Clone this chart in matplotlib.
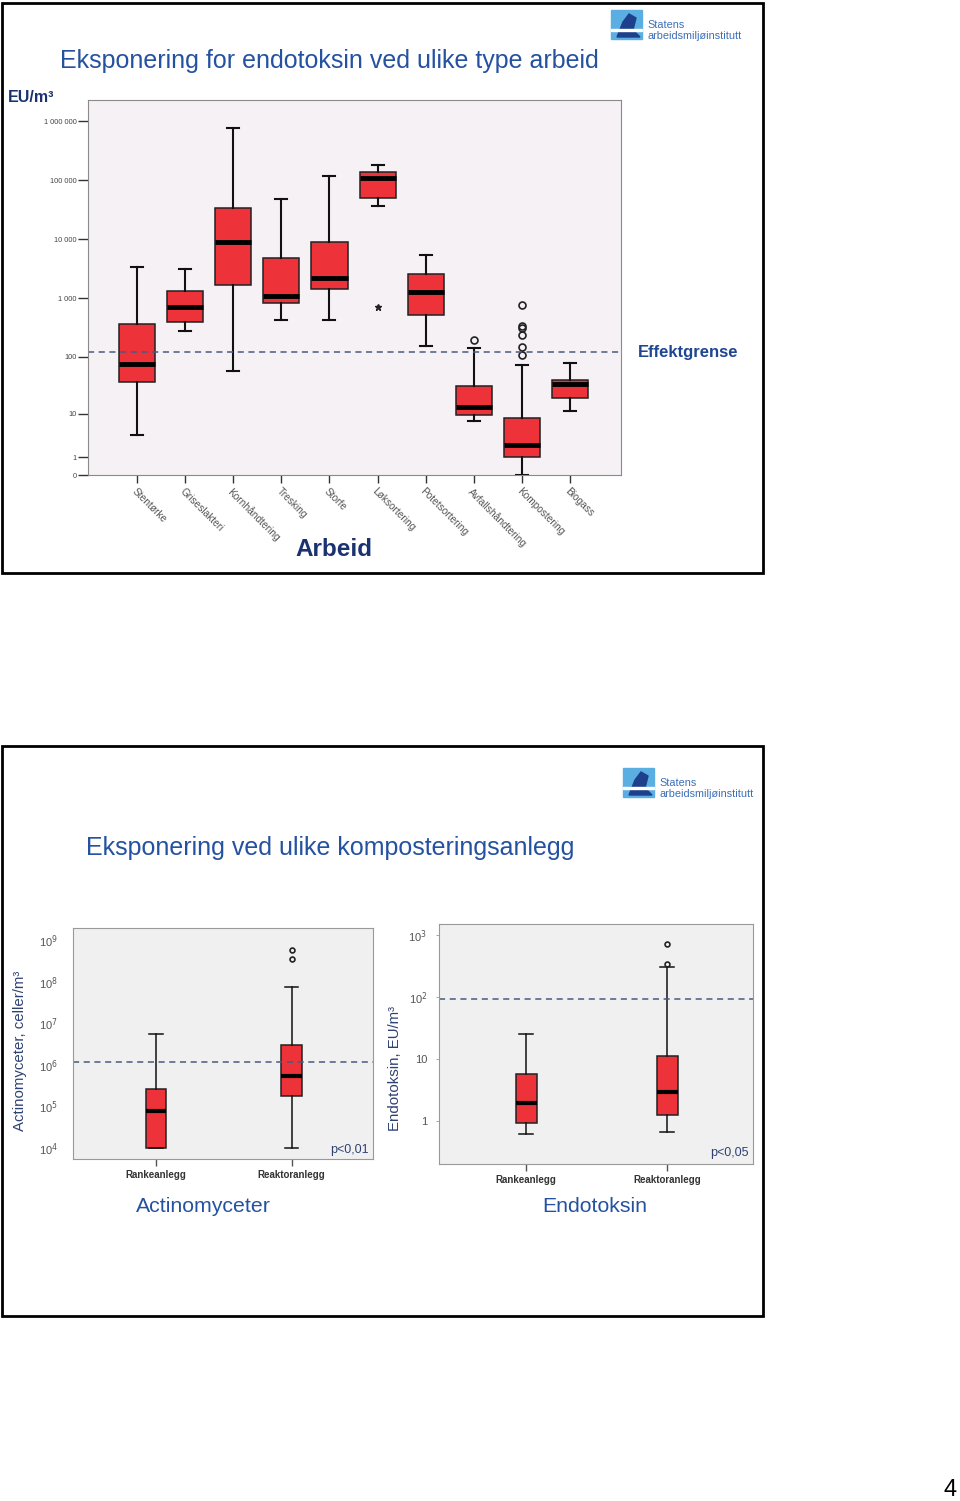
import numpy as np
import matplotlib.pyplot as plt
from matplotlib.patches import Rectangle, Polygon

W, H = 960, 1501
plt.rcParams['font.family'] = ['Liberation Sans', 'DejaVu Sans']

RED = '#EE3239'
TITLE_BLUE = '#2452A0'
NAVY = '#1A3370'
SLATE = '#2E4272'

# --- endotoxin per type of work (EU/m3) ---
arbeid = ['Stentørke', 'Griseslakteri', 'Kornhåndtering', 'Tresking', 'Storfe',
          'Løksortering', 'Potetsortering', 'Avfallshåndtering', 'Kompostering', 'Biogass']
arb_whislo = [3.8, 280, 57, 420, 420, 36600, 151, 7.1, 0, 11.2]
arb_q1 = [37, 400, 1660, 820, 1420, 50000, 515, 9.3, 1.0, 19]
arb_med = [75, 700, 8900, 1080, 2180, 107000, 1260, 13.2, 2.2, 34]
arb_q3 = [362, 1310, 33500, 4750, 8900, 138000, 2570, 31.6, 8.1, 40]
arb_whishi = [3350, 3090, 760000, 47500, 117000, 180000, 5420, 139, 73, 78]
arb_fliers = [[], [], [], [], [], [], [], [193], [106, 147, 232, 310, 334, 768], []]
arb_extreme = [[], [], [], [], [], [695], [], [], [], []]
arb_limit = 120
arb_ticks = [0, 1, 10, 100, 1000, 10000, 100000, 1000000]
arb_ticklabels = ['0', '1', '10', '100', '1 000', '10 000', '100 000', '1 000 000']

# --- composting plants ---
anlegg = ['Rankeanlegg', 'Reaktoranlegg']
act_whislo = [1e4, 1e4]
act_q1 = [1e4, 1.81e5]
act_med = [7.9e4, 5.5e5]
act_q3 = [2.67e5, 2.95e6]
act_whishi = [5.65e6, 7.76e7]
act_fliers = [[], [3.56e8, 5.97e8]]
act_limit = 1.15e6

endo_whislo = [0.61, 0.665]
endo_q1 = [0.93, 1.22]
endo_med = [1.9, 2.94]
endo_q3 = [5.59, 11.2]
endo_whishi = [25.3, 305]
endo_fliers = [[], [336, 724]]
endo_limit = 92


def make_stats(lo, q1, med, q3, hi, fl):
    return [dict(whislo=a, q1=b, med=c, q3=d, whishi=e, fliers=f)
            for a, b, c, d, e, f in zip(lo, q1, med, q3, hi, fl)]


def px_axes(x0, y0, x1, y1):
    return fig.add_axes([x0 / W, 1 - y1 / H, (x1 - x0) / W, (y1 - y0) / H])


def ftext(x, y, s, **kw):
    fig.text(x / W, 1 - y / H, s, **kw)


def draw_boxes(ax, stats, pos, width, capw, med_lw, wlw, ms):
    ax.bxp(stats, positions=pos, widths=width, capwidths=capw, patch_artist=True,
           boxprops=dict(facecolor=RED, edgecolor='#222', linewidth=1.1),
           medianprops=dict(color='black', linewidth=med_lw, solid_capstyle='butt'),
           whiskerprops=dict(color='#111', linewidth=wlw),
           capprops=dict(color='#111', linewidth=wlw),
           flierprops=dict(marker='o', markerfacecolor='none', markeredgecolor='#222',
                           markersize=ms, markeredgewidth=1.2))


def logo(x, y):
    # small institute logo: blue square + name
    fig.patches.append(Rectangle((x / W, 1 - (y + 29) / H), 31 / W, 29 / H,
                                 transform=fig.transFigure, color='#5BAEE2', zorder=1))
    fig.patches.append(Polygon([((x + 6) / W, 1 - (y + 27) / H), ((x + 12) / W, 1 - (y + 12) / H),
                                ((x + 18) / W, 1 - (y + 4) / H), ((x + 25) / W, 1 - (y + 8) / H),
                                ((x + 22) / W, 1 - (y + 20) / H), ((x + 29) / W, 1 - (y + 27) / H)],
                               closed=True, transform=fig.transFigure, color='#1D3F8C', zorder=2))
    fig.patches.append(Rectangle((x / W, 1 - (y + 21) / H), 31 / W, 2 / H,
                                 transform=fig.transFigure, color='white', zorder=3))
    ftext(x + 36, y + 15, 'Statens', fontsize=7.8, color='#3B6FB6', va='center')
    ftext(x + 36, y + 26, 'arbeidsmiljøinstitutt', fontsize=7.8, color='#3B6FB6', va='center')


fig = plt.figure(figsize=(W / 100, H / 100), dpi=100)

# slide frames
for y0, y1 in [(3, 573), (746, 1316)]:
    fig.patches.append(Rectangle((2 / W, 1 - y1 / H), 761 / W, (y1 - y0) / H,
                                 transform=fig.transFigure, fill=False,
                                 edgecolor='black', linewidth=2))

# ---------------- top slide ----------------
ftext(60, 61, 'Eksponering for endotoksin ved ulike type arbeid', fontsize=18,
      color=TITLE_BLUE, va='center')
ftext(8, 97, 'EU/m³', fontsize=11.5, fontweight='bold', color=NAVY, va='center')
logo(611, 10)

ax = px_axes(88, 100, 621, 475)
ax.set_facecolor('#F5F1F4')
ax.set_yscale('function', functions=(lambda v: np.log10(np.clip(v, -0.999, None) + 1),
                                     lambda u: 10 ** u - 1))
pos = np.arange(len(arbeid))
draw_boxes(ax, make_stats(arb_whislo, arb_q1, arb_med, arb_q3, arb_whishi, arb_fliers),
           pos, 0.75, 0.25, 3.5, 1.5, 5)
for p, ex in zip(pos, arb_extreme):
    if ex:
        ax.plot([p] * len(ex), ex, linestyle='none', marker='*', color='#222', markersize=5)
ax.axhline(arb_limit, color='#4A5A80', linestyle=(0, (4, 3)), linewidth=1.1)
ax.set_xlim(-1.02, 10.06)
ax.set_ylim(0, 10 ** 6.36 - 1)
ax.set_yticks(arb_ticks)
ax.set_yticklabels(arb_ticklabels)
ax.set_xticks(pos)
ax.set_xticklabels(arbeid, rotation=-45, ha='left', va='top', rotation_mode='anchor',
                   fontsize=7.3, color='#555')
ax.tick_params(axis='y', length=7, width=1, color='#333', labelsize=5.3,
               labelcolor='#444', pad=1)
ax.tick_params(axis='x', length=6, width=1, color='#333', pad=2)
for s in ax.spines.values():
    s.set_color('#8A8A8A')
ax.minorticks_off()

ftext(638, 353, 'Effektgrense', fontsize=12, fontweight='bold', color='#1F4690', va='center')
ftext(334, 549, 'Arbeid', fontsize=17.5, fontweight='bold', color=NAVY, va='center', ha='center')

# ---------------- bottom slide ----------------
logo(623, 768)
ftext(86, 848, 'Eksponering ved ulike komposteringsanlegg', fontsize=18,
      color=TITLE_BLUE, va='center')

# actinomycetes
ax1 = px_axes(73, 928, 373, 1159)
ax1.set_facecolor('#F0F0F0')
ax1.set_yscale('log')
draw_boxes(ax1, make_stats(act_whislo, act_q1, act_med, act_q3, act_whishi, act_fliers),
           [1, 2], 0.15, 0.1, 3, 1.1, 3.5)
ax1.axhline(act_limit, color='#4A5A80', linestyle=(0, (4, 3)), linewidth=1.1)
ax1.set_xlim(0.39, 2.6)
ax1.set_ylim(10 ** 3.735, 10 ** 9.3)
ax1.set_yticks([10 ** k for k in range(4, 10)])
ax1.set_yticklabels([f'10$^{{{k}}}$' for k in range(4, 10)])
ax1.minorticks_off()
ax1.set_xticks([1, 2])
ax1.set_xticklabels(anlegg, fontsize=7, fontweight='bold', color='#333')
ax1.tick_params(axis='y', length=0, pad=11, labelsize=8, labelcolor='#555')
ax1.tick_params(axis='x', length=5, width=1, color='#555', pad=3)
ax1.set_ylabel('Actinomyceter, celler/m³', fontsize=10.8, color=SLATE)
ax1.yaxis.set_label_coords(-0.153, 0.47)
for s in ax1.spines.values():
    s.set_color('#999')
ax1.text(0.985, 0.015, 'p<0,01', transform=ax1.transAxes, ha='right', va='bottom',
         fontsize=9, color=SLATE)

# endotoxin
ax2 = px_axes(439, 924, 753, 1164)
ax2.set_facecolor('#F0F0F0')
ax2.set_yscale('log')
draw_boxes(ax2, make_stats(endo_whislo, endo_q1, endo_med, endo_q3, endo_whishi, endo_fliers),
           [1, 2], 0.15, 0.1, 3, 1.1, 3.5)
ax2.axhline(endo_limit, color='#4A5A80', linestyle=(0, (4, 3)), linewidth=1.1)
ax2.set_xlim(0.38, 2.61)
ax2.set_ylim(10 ** -0.70, 10 ** 3.177)
ax2.set_yticks([1, 10, 100, 1000])
ax2.set_yticklabels(['1', '10', '10$^2$', '10$^3$'])
ax2.minorticks_off()
ax2.set_xticks([1, 2])
ax2.set_xticklabels(anlegg, fontsize=7, fontweight='bold', color='#333')
ax2.tick_params(axis='y', length=2.5, width=0.6, color='#999', pad=6, labelsize=8,
                labelcolor='#555')
ax2.tick_params(axis='x', length=5, width=1, color='#555', pad=3)
ax2.set_ylabel('Endotoksin, EU/m³', fontsize=10.8, color=SLATE)
ax2.yaxis.set_label_coords(-0.118, 0.396)
for s in ax2.spines.values():
    s.set_color('#999')
ax2.text(0.985, 0.02, 'p<0,05', transform=ax2.transAxes, ha='right', va='bottom',
         fontsize=9, color=SLATE)

ftext(203, 1207, 'Actinomyceter', fontsize=15.3, color=TITLE_BLUE, ha='center', va='center')
ftext(595, 1207, 'Endotoksin', fontsize=15.3, color=TITLE_BLUE, ha='center', va='center')

ftext(950, 1490, '4', fontsize=17, color='black', ha='center', va='center')

fig.savefig('out.png', dpi=100)
